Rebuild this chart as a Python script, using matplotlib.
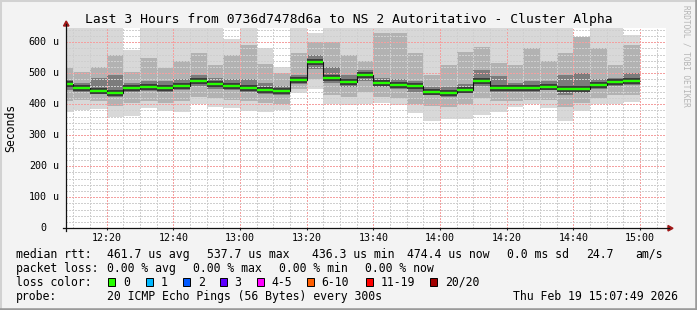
import numpy as np
import matplotlib.pyplot as plt
from matplotlib.lines import Line2D
from matplotlib.patches import Rectangle, Polygon
import matplotlib.transforms as mtransforms

# ----------------------------
# data (values in microseconds, one bar per 5 min step)
# ----------------------------
bar_start = ["12:05", "12:10", "12:15", "12:20", "12:25", "12:30", "12:35",
             "12:40", "12:45", "12:50", "12:55", "13:00", "13:05", "13:10",
             "13:15", "13:20", "13:25", "13:30", "13:35", "13:40", "13:45",
             "13:50", "13:55", "14:00", "14:05", "14:10", "14:15", "14:20",
             "14:25", "14:30", "14:35", "14:40", "14:45", "14:50", "14:55"]

median = [465, 452, 443, 436.3, 452, 456, 452, 459, 475, 465, 459, 452, 446, 443,
          477, 537.7, 485, 472, 494, 470, 463, 459, 441, 437, 447, 476, 453, 452,
          452, 456, 449, 449, 463, 473, 474.4]

ping_max = [650, 650, 650, 650, 575, 650, 650, 650, 650, 650, 612, 650, 582, 520,
            650, 629, 650, 650, 650, 650, 650, 650, 650, 650, 650, 650, 650, 650,
            650, 650, 645, 618, 650, 650, 623]
upper_2 = [516, 505, 521, 559, 505, 550, 516, 540, 564, 527, 559, 590, 530, 500,
           564, 600, 600, 559, 540, 630, 630, 564, 494, 527, 570, 585, 532, 527,
           581, 538, 564, 618, 580, 527, 590]
upper_1 = [478, 468, 484, 495, 470, 475, 475, 480, 494, 484, 480, 480, 470, 460,
           495, 560, 520, 494, 510, 485, 480, 475, 455, 455, 465, 510, 490, 470,
           475, 475, 494, 500, 480, 485, 500]
lower_1 = [445, 440, 432, 425, 438, 443, 440, 445, 458, 450, 445, 440, 432, 430,
           465, 515, 470, 455, 475, 455, 450, 440, 430, 425, 435, 460, 440, 440,
           440, 445, 430, 435, 450, 460, 462]
lower_2 = [410, 414, 410, 395, 405, 410, 405, 410, 425, 420, 415, 410, 405, 400,
           450, 480, 430, 425, 440, 425, 420, 400, 395, 390, 400, 420, 410, 410,
           415, 415, 390, 405, 420, 430, 430]
ping_min = [374, 382, 385, 358, 362, 388, 378, 375, 401, 390, 389, 378, 376, 380,
            436, 448, 400, 398, 400, 403, 398, 371, 346, 353, 353, 365, 376, 391,
            401, 387, 347, 378, 401, 401, 406]

y_ticks = [0, 100, 200, 300, 400, 500, 600]
x_ticks = ["12:20", "12:40", "13:00", "13:20", "13:40", "14:00", "14:20", "14:40", "15:00"]
loss_labels = ["0", "1", "2", "3", "4-5", "6-10", "11-19", "20/20"]
loss_colors = ["#26ff00", "#00b8ff", "#0059ff", "#5e00ff", "#ff00ff", "#ff5e00", "#ff0000", "#a10000"]


def to_min(s):
    h, m = s.split(":")
    return (int(h) - 12) * 60 + int(m)


starts = np.array([to_min(s) for s in bar_start], dtype=float)
step = 5.0
edges = np.append(starts, starts[-1] + step)

# ----------------------------
# figure layout (pixel based)
# ----------------------------
W, H = 697, 310
MONO = "DejaVu Sans Mono"
fig = plt.figure(figsize=(W / 100, H / 100), dpi=100, facecolor="#f3f3f3")


def fx(px):
    return px / W


def fy(py):
    return 1 - py / H


ax_left, ax_right, ax_top, ax_bot = 66.2, 666.2, 28.3, 228.3
ax = fig.add_axes([fx(ax_left), fy(ax_bot), (ax_right - ax_left) / W, (ax_bot - ax_top) / H])
ax.set_facecolor("white")
ax.set_xlim(7.82, 187.82)
ax.set_ylim(0, 645)

# smoke layers
layers = [(ping_min, ping_max, "#d8d8d8"),
          (lower_2, upper_2, "#b2b2b2"),
          (lower_1, upper_1, "#7c7c7c")]
for lo, hi, col in layers:
    lo = np.array(lo, dtype=float)
    hi = np.array(hi, dtype=float)
    ax.bar(starts, hi - lo, bottom=lo, width=step, align="edge", color=col,
           linewidth=0, zorder=1)

# median line
ax.hlines(median, starts, starts + step, color="#3a3a3a", lw=4.3, zorder=3)
ax.stairs(median, edges, baseline=None, color="#111111", lw=0.8, zorder=3)
ax.hlines(median, starts, starts + step, color="#26ff00", lw=1.7, zorder=4)

# grid
ax.set_xticks([to_min(t) for t in x_ticks])
ax.set_xticklabels(x_ticks, family=MONO, fontsize=7.2)
ax.set_xticks(np.arange(10, 188, 5), minor=True)
ax.set_yticks(y_ticks)
ax.set_yticks(np.arange(0, 645, 20), minor=True)
ax.set_yticklabels([])
ax.set_axisbelow(False)
ax.grid(which="minor", color="#cfcfcf", ls=(0, (1.5, 1.5)), lw=0.72, antialiased=False)
ax.grid(which="major", color="#f4a0a0", ls=(0, (1.5, 1.5)), lw=0.72, antialiased=False)
ax.tick_params(axis="x", which="major", length=1.5, pad=2.2, color="#222222")
ax.tick_params(axis="y", which="major", length=0)
ax.tick_params(which="minor", length=0)
for sp in ax.spines.values():
    sp.set_visible(False)

# y tick labels, number aligned on the digits, unit on the right
trans = mtransforms.blended_transform_factory(fig.transFigure, ax.transData)
for v in y_ticks:
    ax.text(fx(46.8), v, str(v), transform=trans, ha="right", va="center",
            family=MONO, fontsize=7.2, clip_on=False)
    if v:
        ax.text(fx(52.8), v, "u", transform=trans, ha="left", va="center",
                family=MONO, fontsize=7.2, clip_on=False)

# axis lines and arrows
fig.add_artist(Line2D([fx(ax_left), fx(ax_left)], [fy(ax_bot + 3), fy(24)], color="#111111", lw=0.9))
fig.add_artist(Line2D([fx(63), fx(669)], [fy(ax_bot), fy(ax_bot)], color="#111111", lw=0.9))
fig.add_artist(Polygon([[fx(63.5), fy(26)], [fx(69), fy(26)], [fx(66.2), fy(21)]],
                       closed=True, color="#a01818", transform=fig.transFigure))
fig.add_artist(Polygon([[fx(668), fy(225.5)], [fx(668), fy(231)], [fx(673), fy(228.3)]],
                       closed=True, color="#a01818", transform=fig.transFigure))

# titles
fig.text(0.5, fy(19.3), "Last 3 Hours from 0736d7478d6a to NS 2 Autoritativo - Cluster Alpha",
         ha="center", va="center", family=MONO, fontsize=9.4)
fig.text(fx(11), fy(128), "Seconds", rotation=90, ha="center", va="center",
         family=MONO, fontsize=8.3)
fig.text(fx(686), fy(5), "RRDTOOL / TOBI OETIKER", rotation=270, ha="center", va="top",
         family=MONO, fontsize=5.6, color="#b4b4b4")

# legend rows
rows_y = [254.3, 268.3, 282.3, 296.7]


def txt(x, y, s):
    fig.text(fx(x), fy(y), s, ha="left", va="center", family=MONO, fontsize=8.3)


txt(16, rows_y[0], "median rtt:")
txt(107.3, rows_y[0], "461.7 us avg")
txt(207.3, rows_y[0], "537.7 us max")
txt(312.3, rows_y[0], "436.3 us min")
txt(407.3, rows_y[0], "474.4 us now")
txt(507.3, rows_y[0], "0.0 ms sd")
txt(586, rows_y[0], "24.7")
txt(635, rows_y[0], "am/s")

txt(16, rows_y[1], "packet loss:")
txt(107.3, rows_y[1], "0.00 % avg")
txt(193.3, rows_y[1], "0.00 % max")
txt(279.3, rows_y[1], "0.00 % min")
txt(365, rows_y[1], "0.00 % now")

txt(16, rows_y[2], "loss color:")
box_x = [108.3, 145.7, 183.3, 220.0, 256.7, 306.7, 365.7, 430.0]
for bx, lab, col in zip(box_x, loss_labels, loss_colors):
    fig.add_artist(Rectangle((fx(bx), fy(rows_y[2] + 4)), 7 / W, 8 / H, facecolor=col,
                             edgecolor="black", lw=0.7, transform=fig.transFigure))
    txt(bx + 14.7, rows_y[2], lab)

txt(16, rows_y[3], "probe:")
txt(107.3, rows_y[3], "20 ICMP Echo Pings (56 Bytes) every 300s")
txt(513.3, rows_y[3], "Thu Feb 19 15:07:49 2026")

# 3d frame of the canvas
fig.add_artist(Line2D([0, 0, 1], [0, 1, 1], color="#d2d2d2", lw=2.2, transform=fig.transFigure))
fig.add_artist(Line2D([0, 1, 1], [0, 0, 1], color="#9a9a9a", lw=2.6, transform=fig.transFigure))

fig.savefig("out.png", dpi=100, facecolor=fig.get_facecolor())
